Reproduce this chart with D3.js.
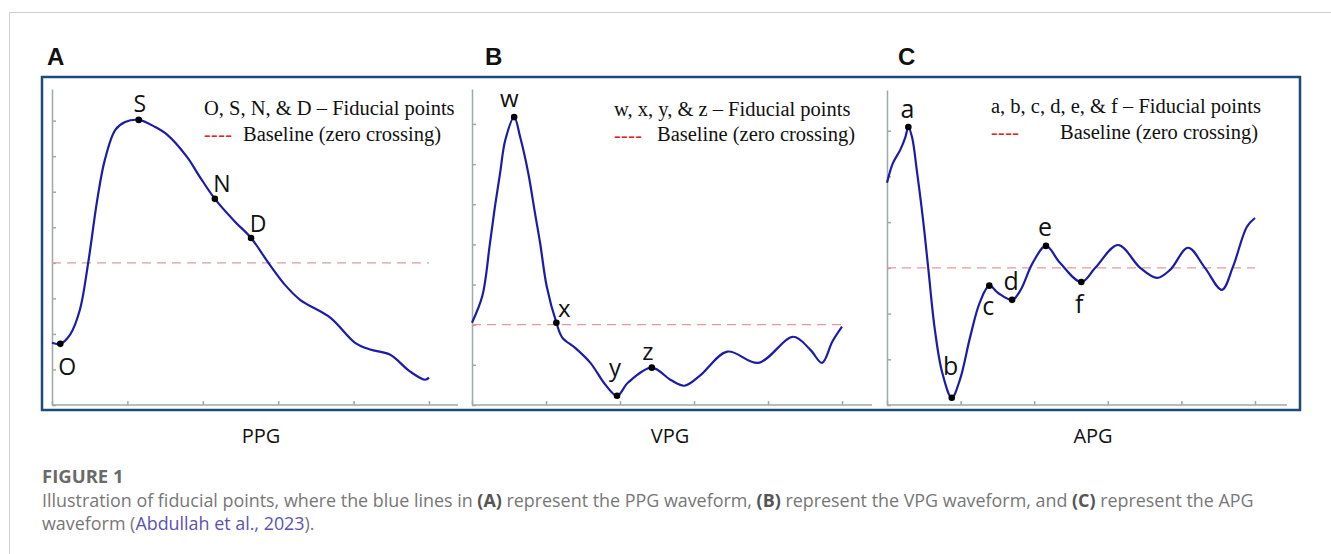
<!DOCTYPE html>
<html>
<head>
<meta charset="utf-8">
<script src="https://cdn.jsdelivr.net/npm/d3@7"></script>
<style>
  body { margin: 0; background: #fff; }
  svg { display: block; }
</style>
</head>
<body>
<div id="fig"></div>
<script>
// waveform samples
// x in grid steps along the time axis (0..5), y in grid steps from the baseline
var ppgX = [0, 0.11, 0.24, 0.37, 0.48, 0.60, 0.70, 0.84, 0.97, 1.15, 1.37, 1.53, 1.79, 1.96, 2.16, 2.43, 2.64, 2.87, 3.09, 3.29, 3.69, 4.02, 4.22, 4.48, 4.75, 4.95, 5.00];
var ppgY = [-2.25, -2.28, -2.02, -1.32, 0, 1.77, 2.89, 3.74, 3.96, 4.02, 3.82, 3.60, 2.98, 2.42, 1.80, 1.15, 0.70, 0, -0.62, -1.04, -1.54, -2.25, -2.44, -2.58, -3.06, -3.29, -3.23];
var ppgMarks = ["O", "S", "N", "D"];
var ppgMarkAt = [1, 9, 14, 16];

var vpgX = [0, 0.14, 0.24, 0.31, 0.38, 0.45, 0.57, 0.65, 0.76, 0.85, 0.92, 1.01, 1.14, 1.22, 1.39, 1.60, 1.80, 1.96, 2.11, 2.43, 2.68, 2.87, 3.08, 3.45, 3.87, 4.34, 4.57, 4.73, 4.87, 5.00];
var vpgY = [0.05, 0.72, 1.99, 2.94, 3.78, 4.60, 5.17, 4.68, 3.78, 2.79, 2.04, 0.95, 0.05, -0.32, -0.57, -0.95, -1.49, -1.77, -1.44, -1.07, -1.37, -1.52, -1.27, -0.67, -0.95, -0.30, -0.62, -0.95, -0.42, -0.05];
var vpgMarks = ["w", "x", "y", "z"];
var vpgMarkAt = [6, 12, 17, 19];

var apgX = [0, 0.08, 0.18, 0.25, 0.29, 0.34, 0.41, 0.49, 0.56, 0.65, 0.75, 0.88, 0.99, 1.13, 1.26, 1.39, 1.51, 1.70, 1.81, 1.98, 2.16, 2.35, 2.64, 2.83, 3.14, 3.44, 3.67, 3.85, 4.09, 4.32, 4.55, 4.70, 4.89, 5.00];
var apgY = [1.86, 2.29, 2.58, 2.86, 3.08, 2.86, 2.07, 1.05, 0, -1.35, -2.29, -2.84, -2.45, -1.51, -0.76, -0.39, -0.55, -0.70, -0.50, 0.11, 0.48, 0.11, -0.31, 0, 0.50, 0, -0.22, -0.04, 0.44, 0, -0.48, 0.02, 0.90, 1.09];
var apgMarks = ["a", "b", "c", "d", "e", "f"];
var apgMarkAt = [4, 11, 15, 17, 20, 22];

var panelLetters = ["A", "B", "C"];
var waveNames = ["PPG", "VPG", "APG"];
var legendTitles = ["O, S, N, & D \u2013 Fiducial points", "w, x, y, & z \u2013 Fiducial points", "a, b, c, d, e, & f \u2013 Fiducial points"];
var legendBaseline = "Baseline (zero crossing)";
var xTicks = [0, 1, 2, 3, 4, 5];

// layout of the three panels (pixels)
var panels = [
  {xs: ppgX, ys: ppgY, marks: ppgMarks, at: ppgMarkAt, x0: 52, x1: 429, top: 89, yDomain: [-4, 4.89], yTicks: d3.range(-4, 5), axisEnd: 458,
   letterX: 47, nameX: 261, legX: 204, legY: 115, dashY: 141, baseX: 243, baseY: 141, labelSize: 23},
  {xs: vpgX, ys: vpgY, marks: vpgMarks, at: vpgMarkAt, x0: 472, x1: 842, top: 89, yDomain: [-2, 5.87], yTicks: d3.range(-2, 6), axisEnd: 872,
   letterX: 485, nameX: 670, legX: 614, legY: 116, dashY: 142, baseX: 657, baseY: 141, labelSize: 24},
  {xs: apgX, ys: apgY, marks: apgMarks, at: apgMarkAt, x0: 887, x1: 1255, top: 90, yDomain: [-3, 3.89], yTicks: d3.range(-3, 4), axisEnd: 1287,
   letterX: 898, nameX: 1093, legX: 991, legY: 113, dashY: 139, baseX: 1060, baseY: 139, labelSize: 25}
];
var bottom = 405;

// where each letter sits relative to its dot
var labelOffset = {
  O: [7, 31], S: [1, -8], N: [7, -7], D: [7, -6],
  w: [-5, -10], x: [8, -6], y: [-2, -20], z: [-4, -8],
  a: [-1, -9], b: [-1, -23], c: [-1, 29], d: [-1, -10], e: [-1, -10], f: [-2, 31]
};

var svg = d3.select("#fig")
  .append("svg")
    .attr("width", 1331)
    .attr("height", 554);

// card outline (top and left edge only)
svg.append("path")
  .attr("d", "M9.5,554V12.5H1331")
  .attr("fill", "none")
  .attr("stroke", "#cfcfcf")
  .attr("stroke-width", 1);

// blue frame around the three graphs
svg.append("rect")
  .attr("x", 42).attr("y", 77)
  .attr("width", 1258).attr("height", 333)
  .attr("fill", "none")
  .attr("stroke", "#1d4a7c")
  .attr("stroke-width", 2.5);

panels.forEach(function(p, i) {
  var x = d3.scaleLinear().domain([0, 5]).range([p.x0, p.x1]);
  var y = d3.scaleLinear().domain(p.yDomain).range([bottom, p.top]);
  var g = svg.append("g");

  // panel letter
  svg.append("text")
    .attr("x", p.letterX).attr("y", 65)
    .text(panelLetters[i])
    .style("font-family", "'Liberation Sans', Arial, sans-serif")
    .style("font-weight", "bold")
    .style("font-size", "24px")
    .attr("fill", "#111");

  // axes, ticks pointing inwards
  var xAxis = g.append("g")
    .attr("transform", "translate(0," + bottom + ")")
    .call(d3.axisBottom(x).tickValues(xTicks).tickSize(-4).tickSizeOuter(0).tickFormat(""));
  xAxis.select(".domain").remove();
  g.append("line")
    .attr("x1", p.x0).attr("x2", p.axisEnd)
    .attr("y1", bottom).attr("y2", bottom);

  var yAxis = g.append("g")
    .attr("transform", "translate(" + p.x0 + ",0)")
    .call(d3.axisLeft(y).tickValues(p.yTicks).tickSize(-4).tickSizeOuter(0).tickFormat(""));

  g.selectAll("line, path.domain")
    .attr("stroke", "#9fa9a7")
    .attr("stroke-width", 1.5);

  // zero crossing baseline
  g.append("line")
    .attr("x1", x(0)).attr("x2", x(5))
    .attr("y1", y(0)).attr("y2", y(0))
    .attr("stroke", "#dd9c9c")
    .attr("stroke-width", 1.3)
    .attr("stroke-dasharray", "9,6");

  // waveform
  var pts = p.xs.map(function(d, k) { return [d, p.ys[k]]; });
  g.append("path")
    .datum(pts)
    .attr("d", d3.line()
      .x(function(d) { return x(d[0]); })
      .y(function(d) { return y(d[1]); })
      .curve(d3.curveCatmullRom.alpha(0.5)))
    .attr("fill", "none")
    .attr("stroke", "#1c1ca8")
    .attr("stroke-width", 2.2);

  // fiducial points
  p.marks.forEach(function(m, k) {
    var d = pts[p.at[k]];
    g.append("circle")
      .attr("cx", x(d[0])).attr("cy", y(d[1]))
      .attr("r", 3.3)
      .attr("fill", "#000");
    g.append("text")
      .attr("x", x(d[0]) + labelOffset[m][0])
      .attr("y", y(d[1]) + labelOffset[m][1])
      .attr("text-anchor", "middle")
      .text(m)
      .style("font-family", "'Open Sans', sans-serif")
      .style("font-size", p.labelSize + "px")
      .attr("fill", "#111");
  });

  // legend
  var serif = "'Liberation Serif', 'Times New Roman', serif";
  g.append("text")
    .attr("x", p.legX).attr("y", p.legY)
    .text(legendTitles[i])
    .style("font-family", serif).style("font-size", "20.5px")
    .attr("fill", "#111");
  g.append("text")
    .attr("x", p.legX).attr("y", p.dashY)
    .attr("textLength", 28)
    .text("----")
    .style("font-family", serif).style("font-size", "20px")
    .attr("fill", "#e02424");
  g.append("text")
    .attr("x", p.baseX).attr("y", p.baseY)
    .text(legendBaseline)
    .style("font-family", serif).style("font-size", "20.5px")
    .attr("fill", "#111");

  // waveform name under the frame
  svg.append("text")
    .attr("x", p.nameX).attr("y", 443)
    .attr("text-anchor", "middle")
    .text(waveNames[i])
    .style("font-family", "'Open Sans', sans-serif")
    .style("font-size", "20px")
    .attr("fill", "#111");
});

// caption
var cap = "'Open Sans', sans-serif";
svg.append("text")
  .attr("x", 42).attr("y", 483)
  .text("FIGURE 1")
  .style("font-family", cap).style("font-weight", "bold").style("font-size", "18.5px")
  .attr("fill", "#6a6a6a");

var line1 = svg.append("text")
  .attr("x", 42).attr("y", 507)
  .style("font-family", cap).style("font-size", "17.9px")
  .attr("fill", "#777");
[["Illustration of fiducial points, where the blue lines in ", 0], ["(A)", 1], [" represent the PPG waveform, ", 0],
 ["(B)", 1], [" represent the VPG waveform, and ", 0], ["(C)", 1], [" represent the APG", 0]].forEach(function(s) {
  line1.append("tspan").text(s[0])
    .style("font-weight", s[1] ? "bold" : "normal")
    .attr("fill", s[1] ? "#555" : "#777");
});

var line2 = svg.append("text")
  .attr("x", 42).attr("y", 530)
  .style("font-family", cap).style("font-size", "17.9px")
  .attr("fill", "#777");
line2.append("tspan").text("waveform (");
line2.append("tspan").text("Abdullah et al., 2023").attr("fill", "#5a52b3");
line2.append("tspan").text(").");
</script>
</body>
</html>
